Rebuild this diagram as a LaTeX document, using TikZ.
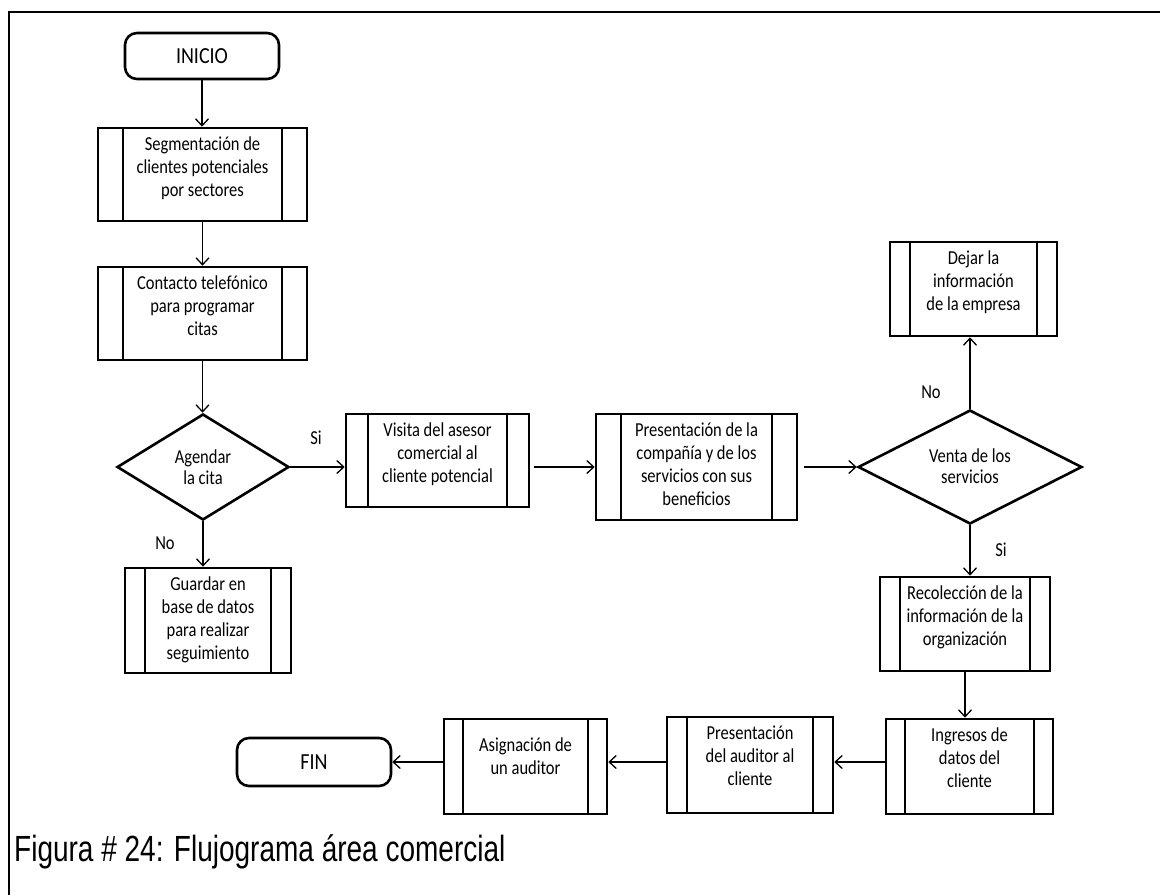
\documentclass[tikz,border=0pt]{standalone}
\usepackage{fontspec}
\usepackage{graphicx}
\setmainfont{Carlito}
\newfontfamily\capfont{Liberation Sans}
\usetikzlibrary{shapes.geometric,arrows.meta}

% text set slightly taller than wide
\newcommand\tallt[2]{\scalebox{1}[#1]{#2}}

\tikzset{
  procbox/.style={draw, rectangle, line width=2.6pt, inner sep=0pt},
  innerline/.style={line width=2.2pt},
  boxtext/.style={inner sep=0pt, font=\fontsize{16.5}{19.2}\selectfont},
  term/.style={draw, rectangle, rounded corners=12pt, line width=2.6pt, inner sep=0pt,
    font=\fontsize{20}{24}\selectfont},
  decision/.style={draw, diamond, line width=2.6pt, inner sep=0pt},
  dtext/.style={inner sep=0pt, font=\fontsize{16.5}{17.8}\selectfont},
  conn/.style={line width=1.3pt, -{Straight Barb[length=7pt,width=13pt]}},
  lbl/.style={inner sep=0pt, font=\fontsize{16.5}{20}\selectfont},
}

% predefined process box: name, x1, y1, x2, y2, side strip, first baseline, text
\newcommand\procbox[8]{%
  \node[procbox, minimum width={(#4-#2)*1pt}, minimum height={(#5-#3)*1pt}]
    (#1) at ({(#2+#4)/2},{(#3+#5)/2}) {};
  \draw[innerline] ([xshift=#6pt]#1.north west) -- ([xshift=#6pt]#1.south west);
  \draw[innerline] ([xshift=-#6pt]#1.north east) -- ([xshift=-#6pt]#1.south east);
  \node[boxtext, anchor=base] (#1-txt) at ([yshift=-#7pt]#1.north)
    {\tallt{1.2}{\begin{tabular}[t]{@{}c@{}}#8\end{tabular}}};
}

\begin{document}
\begin{tikzpicture}[x=1pt, y=-1pt]
\useasboundingbox (0,0) rectangle (1160,895);

% frame
\draw[line width=2.2pt] (9,895) -- (9,12.3) -- (1160,12.3);

% terminals
\node[term, minimum width=154pt, minimum height=46pt] (ini) at (202,56) {\tallt{1.15}{INICIO}};
\node[term, minimum width=154pt, minimum height=48pt] (fin) at (314,762) {\tallt{1.15}{FIN}};

% process boxes
\procbox{seg}{98}{128}{307}{221}{26}{24}{Segmentación de\\clientes potenciales\\por sectores}
\procbox{cont}{98}{267}{307}{360}{26}{24}{Contacto telefónico\\para programar\\citas}
\procbox{guar}{125}{568}{291}{673}{21}{24}{Guardar en\\base de datos\\para realizar\\seguimiento}
\procbox{vis}{346}{414}{529}{507}{23}{24}{Visita del asesor\\comercial al\\cliente potencial}
\procbox{pres}{596}{414}{797}{520}{26}{24}{Presentación de la\\compañía y de los\\servicios con sus\\beneficios}
\procbox{dej}{890}{242}{1057}{336}{21}{24}{Dejar la\\información\\de la empresa}
\procbox{rec}{880}{577}{1050}{671}{21}{24}{Recolección de la\\información de la\\organización}
\procbox{ing}{886}{719}{1053}{814}{20}{24}{Ingresos de\\datos del\\cliente}
\procbox{pa}{667}{717}{833}{813}{21}{24}{Presentación\\del auditor al\\cliente}
\procbox{asig}{444}{719}{607}{814}{20}{34}{Asignación de\\un auditor}

% decisions
\node[decision, minimum width=172pt, minimum height=106pt] (ag) at (203,467) {};
\node[dtext] (ag-txt) at (203,470) {\tallt{1.2}{\begin{tabular}{@{}c@{}}Agendar\\la cita\end{tabular}}};
\node[decision, minimum width=224pt, minimum height=114pt] (ven) at (970,467) {};
\node[dtext] (ven-txt) at (970,469) {\tallt{1.2}{\begin{tabular}{@{}c@{}}Venta de los\\servicios\end{tabular}}};

% branch labels
\node[lbl] (si1) at (316,438) {\tallt{1.2}{Si}};
\node[lbl] (no1) at (165,543) {\tallt{1.2}{No}};
\node[lbl] (no2) at (931,392) {\tallt{1.2}{No}};
\node[lbl] (si2) at (1001,550) {\tallt{1.2}{Si}};

% connectors
\draw[conn] (ini.south) -- (ini.south |- seg.north);
\draw[conn] (seg.south) -- (cont.north);
\draw[conn] (cont.south) -- (cont.south |- ag.north);
\draw[conn] (ag.south) -- (ag.south |- guar.north);
\draw[conn] (ag.east) -- (ag.east -| vis.west);
\draw[conn] ([xshift=4pt]vis.east |- pres.west) -- (pres.west);
\draw[conn] ([xshift=6pt]pres.east) -- (ven.west);
\draw[conn] (ven.north) -- (ven.north |- dej.south);
\draw[conn] (ven.south) -- (ven.south |- rec.north);
\draw[conn] (rec.south) -- (rec.south |- ing.north);
\draw[conn] (ing.west |- fin.east) -- (pa.east |- fin.east);
\draw[conn] (pa.west |- fin.east) -- (asig.east |- fin.east);
\draw[conn] (asig.west |- fin.east) -- (fin.east);

% caption
\node[anchor=base west, inner sep=0pt, font=\capfont\fontsize{28}{32}\selectfont]
  (cap) at (14,861) {\tallt{1.3}{Figura \# 24: Flujograma área comercial}};
\end{tikzpicture}
\end{document}
